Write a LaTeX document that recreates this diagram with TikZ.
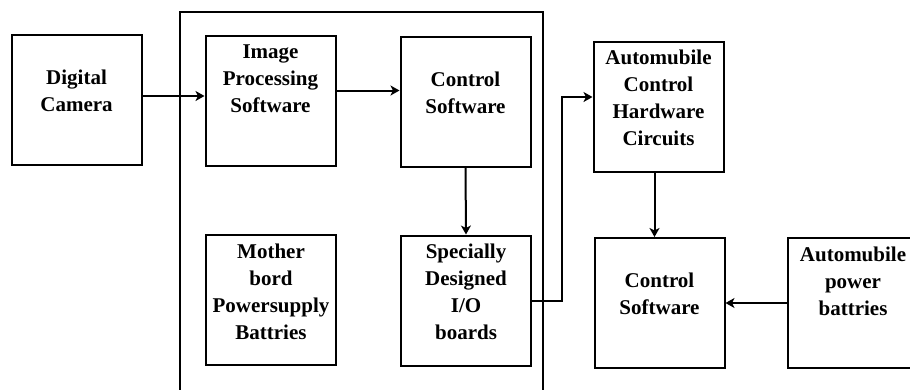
\documentclass[tikz,border=0pt]{standalone}
\usepackage{fontspec}
\setmainfont{Liberation Serif}
\usetikzlibrary{arrows.meta}

\begin{document}
\begin{tikzpicture}[x=1pt,y=-1pt,>={Stealth[length=9pt,width=10pt,inset=2.5pt]},
        blk/.style={draw,line width=2pt,minimum width=130pt,minimum height=130pt,inner sep=0pt},
        txt/.style={align=center,inner sep=0pt,font=\fontsize{21}{27}\selectfont\bfseries},
        arr/.style={->,line width=2pt}]
        \clip (0,0) rectangle (910,389);

        % the computer
        \draw [line width=2pt] (180,400) -- (180,12) -- (543,12) -- (543,400);

        \node [blk] (cam) at (76.5,100) {};
        \node [blk] (imgproc) at (270.5,100.5) {};
        \node [blk] (ctrlsw) at (465.5,101.5) {};
        \node [blk] (hw) at (658.5,106.5) {};
        \node [blk] (mother) at (271,300) {};
        \node [blk] (io) at (466,300.5) {};
        \node [blk] (ctrl) at (659.5,303) {};
        \node [blk] (power) at (853,303) {};

        \node [txt] (cam-t) at ([yshift=9pt]cam.center) {Digital\\Camera};
        \node [txt] (imgproc-t) at ([yshift=22pt]imgproc.center) {Image\\Processing\\Software};
        \node [txt] (ctrlsw-t) at ([yshift=9pt]ctrlsw.center) {Control\\Software};
        \node [txt] (hw-t) at ([yshift=8.5pt]hw.center) {Automubile\\Control\\Hardware\\Circuits};
        \node [txt] (mother-t) at ([yshift=8pt]mother.center) {Mother\\bord\\Powersupply\\Battries};
        \node [txt] (io-t) at ([yshift=8.5pt]io.center) {Specially\\Designed\\I/O\\boards};
        \node [txt] (ctrl-t) at ([yshift=9.5pt]ctrl.center) {Control\\Software};
        \node [txt] (power-t) at ([yshift=21.5pt]power.center) {Automubile\\power\\battries};

        % connectors
        \draw [arr] ([yshift=4pt]cam.east) -- ([yshift=4pt]cam.east -| imgproc.west);
        \draw [arr] ([yshift=10pt]imgproc.east) -- ([yshift=10pt]imgproc.east -| ctrlsw.west);
        \draw [arr] (ctrlsw.south) -- (io.north);
        \draw [arr] (io.east) -| ([xshift=-31pt,yshift=9.5pt]hw.west) -- ([yshift=9.5pt]hw.west);
        \draw [arr] ([xshift=-4pt]hw.south) -- ([xshift=-4pt]hw.south |- ctrl.north);
        \draw [arr] (power.west) -- (ctrl.east);
\end{tikzpicture}
\end{document}
